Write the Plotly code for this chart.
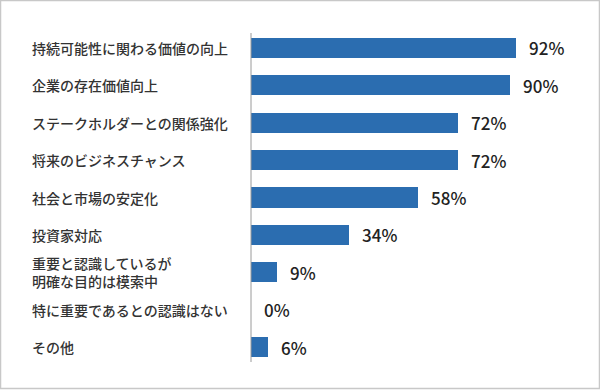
import plotly.graph_objects as go

categories = [
    "持続可能性に関わる価値の向上",
    "企業の存在価値向上",
    "ステークホルダーとの関係強化",
    "将来のビジネスチャンス",
    "社会と市場の安定化",
    "投資家対応",
    "重要と認識しているが<br>明確な目的は模索中",
    "特に重要であるとの認識はない",
    "その他",
]
values = [92, 90, 72, 72, 58, 34, 9, 0, 6]
value_labels = [f"{v}%" for v in values]

W, H = 600, 390
FONT = "Noto Sans CJK JP"
BAR = "#2b6db0"

fig = go.Figure(
    go.Bar(
        x=values,
        y=categories,
        orientation="h",
        marker=dict(color=BAR, line=dict(width=0)),
        width=0.54,
        hoverinfo="skip",
    )
)

annotations = []
for c in categories:
    annotations.append(dict(
        x=30 / W, xref="paper", y=c, yref="y",
        text=c, showarrow=False, xanchor="left", align="left",
        font=dict(family=FONT, size=14, color="#333333", weight=500),
    ))
for c, v, t in zip(categories, values, value_labels):
    annotations.append(dict(
        x=v, xref="x", y=c, yref="y",
        text=t, showarrow=False, xanchor="left", xshift=11,
        font=dict(family=FONT, size=17, color="#222222", weight=500),
    ))

x0_px, x1_px = 251, 590
px_per_unit = 2.88
fig.update_layout(
    width=W, height=H,
    margin=dict(l=0, r=0, t=0, b=0),
    paper_bgcolor="white", plot_bgcolor="white",
    showlegend=False,
    bargap=0,
    xaxis=dict(
        domain=[x0_px / W, x1_px / W],
        range=[0, (x1_px - x0_px) / px_per_unit],
        showgrid=False, zeroline=False, showticklabels=False,
        showline=False, ticks="",
    ),
    yaxis=dict(
        domain=[(H - 362) / H, (H - 33) / H],
        type="category",
        range=[8.4, -0.4],
        showgrid=False, zeroline=False, showticklabels=False,
        showline=False, ticks="",
    ),
    annotations=annotations,
    shapes=[
        dict(type="line", xref="paper", yref="paper",
             x0=x0_px / W, x1=x0_px / W, y0=(H - 362) / H, y1=(H - 33) / H,
             line=dict(color="#9a9a9a", width=1)),
        dict(type="rect", xref="paper", yref="paper",
             x0=0.5 / W, x1=1 - 0.5 / W, y0=1.5 / H, y1=1 - 0.5 / H,
             line=dict(color="#c8c8c8", width=1.5)),
    ],
)

fig.write_html(
    "out.html",
    config={"displayModeBar": False},
    post_script="document.body.style.margin='0';document.body.style.overflow='hidden';",
)
